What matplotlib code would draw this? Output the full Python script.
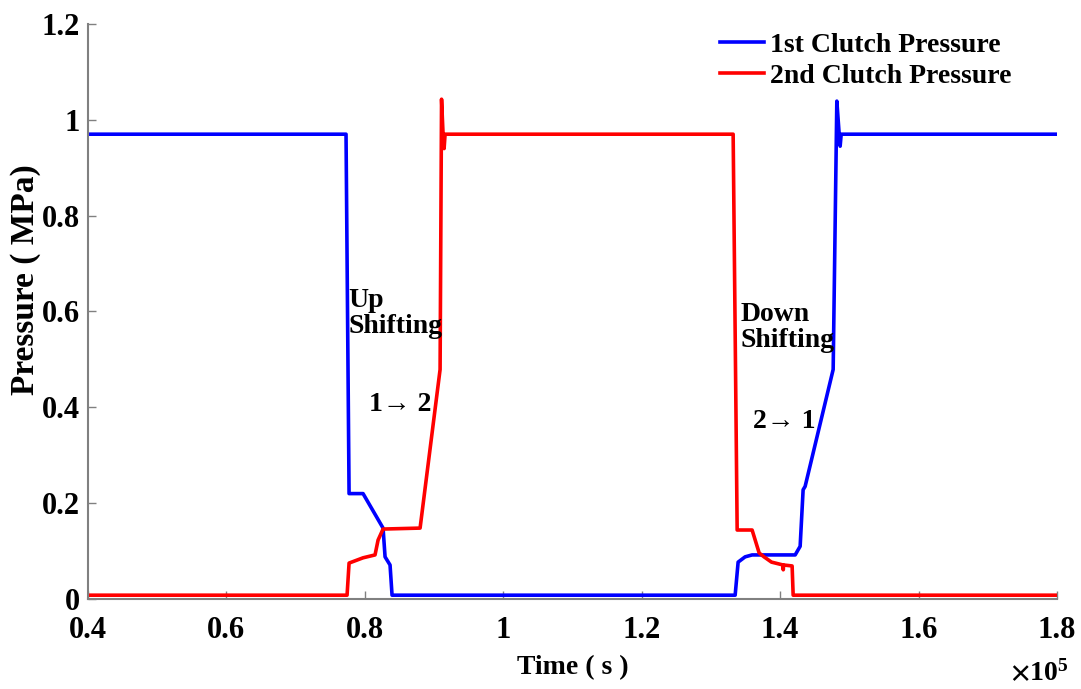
import matplotlib
matplotlib.use("Agg")
import matplotlib.pyplot as plt
from matplotlib.ticker import FuncFormatter, MultipleLocator

# 1st clutch pressure (time in s, pressure in MPa)
t1 = [40000, 77280, 77720, 79740, 82630, 82920, 83640, 83930,
      133500, 133930, 134940, 135950, 142170, 142890, 143320, 143610,
      147660, 148190, 148530, 148670, 148820, 180000]
p1 = [0.97, 0.97, 0.22, 0.22, 0.148, 0.088, 0.071, 0.008,
      0.008, 0.077, 0.088, 0.092, 0.092, 0.11, 0.228, 0.235,
      0.479, 1.039, 0.97, 0.945, 0.97, 0.97]

# 2nd clutch pressure
t2 = [40000, 77430, 77720, 79740, 81470, 81910, 82630, 87980,
      90870, 91080, 91300, 91450, 91590, 133210, 133790, 135950,
      136970, 137670, 138750, 140430, 140450, 140500, 141730, 141880, 180000]
p2 = [0.008, 0.008, 0.075, 0.086, 0.092, 0.123, 0.146, 0.148,
      0.479, 1.043, 0.97, 0.94, 0.97, 0.97, 0.144, 0.144,
      0.096, 0.088, 0.077, 0.071, 0.061, 0.071, 0.069, 0.008, 0.008]

plt.rcParams['font.family'] = ['Liberation Serif', 'DejaVu Serif']
plt.rcParams['font.weight'] = 'bold'
plt.rcParams['mathtext.fontset'] = 'stix'

fig = plt.figure(figsize=(10.81, 6.89), dpi=100)
ax = fig.add_axes([0.0814, 0.1306, 0.8964, 0.8346])

ax.plot(t1, p1, color='blue', lw=2.6, label='1st Clutch Pressure')
ax.plot(t2, p2, color='red', lw=2.6, label='2nd Clutch Pressure')

ax.set_xlim(40000, 180000)
ax.set_ylim(0, 1.2)
ax.xaxis.set_major_locator(MultipleLocator(20000))
ax.yaxis.set_major_locator(MultipleLocator(0.2))
ax.xaxis.set_major_formatter(FuncFormatter(lambda v, p: '%g' % round(v / 1e5, 2)))
ax.yaxis.set_major_formatter(FuncFormatter(lambda v, p: '%g' % round(v, 2)))

for s in ['top', 'right']:
    ax.spines[s].set_visible(False)
for s in ['left', 'bottom']:
    ax.spines[s].set_color('#808080')
    ax.spines[s].set_linewidth(1.5)
ax.tick_params(direction='in', length=6, width=1, color='#808080', labelsize=22)
ax.tick_params(axis='x', pad=12)
ax.tick_params(axis='y', pad=6)

ax.set_xlabel('Time ( s )', fontsize=20, fontweight='bold')
ax.set_ylabel('Pressure ( MPa)', fontsize=24, fontweight='bold')
ax.xaxis.set_label_coords(0.5, -0.098)
ax.yaxis.set_label_coords(-0.048, 0.555)

ax.text(0.982, -0.128, r'$\times\mathregular{10^5}$', transform=ax.transAxes,
        ha='center', va='center', fontsize=20)

ax.text(77570, 0.595, 'Up\nShifting', fontsize=20, fontweight='bold',
        ha='left', va='center', linespacing=1.05)
ax.text(85100, 0.405, '1\u2192 2', fontsize=20, fontweight='bold',
        ha='center', va='center')
ax.text(134220, 0.566, 'Down\nShifting', fontsize=20, fontweight='bold',
        ha='left', va='center', linespacing=1.05)
ax.text(140580, 0.37, '2\u2192 1', fontsize=20, fontweight='bold',
        ha='center', va='center')

ax.legend(loc='upper left', bbox_to_anchor=(0.652, 0.985), frameon=False,
          fontsize=20, handlelength=1.6, handletextpad=0.2,
          borderpad=0, borderaxespad=0, labelspacing=0.2)

fig.savefig('out.png', dpi=100)
